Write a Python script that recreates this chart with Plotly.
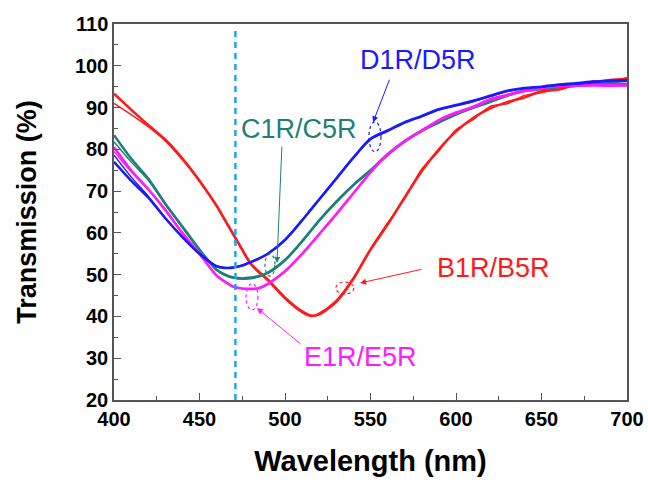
import plotly.graph_objects as go

wl = [400, 410, 420, 430, 440, 450, 460, 465, 470, 475, 480, 485, 490, 500, 510, 515, 520,
      530, 540, 550, 560, 570, 580, 590, 600, 610, 620, 630, 640, 650, 660, 670, 680, 690, 700]

# B1R / B5R (red)
b1r = [93.3, 89.5, 85.8, 82.3, 77.8, 72.5, 66.5, 63.0, 59.5, 56.0, 52.6, 50.6, 48.8, 44.5, 41.2, 40.2, 40.5,
       43.5, 49.0, 56.0, 62.0, 68.5, 74.8, 80.0, 84.3, 87.5, 89.8, 91.3, 92.4, 93.9, 94.3, 95.5, 96.0, 96.6, 96.8]
b5r = [91.0, 88.3, 85.4, 82.0, 77.5, 72.3, 66.4, 62.8, 59.3, 55.8, 52.4, 50.3, 48.5, 44.2, 40.9, 40.0, 40.8,
       43.9, 49.3, 56.2, 62.4, 68.2, 75.3, 79.6, 84.7, 87.1, 90.3, 90.9, 92.9, 93.5, 94.8, 95.1, 96.4, 96.2, 97.2]

# C1R / C5R (teal)
c1r = [83.4, 77.8, 73.0, 67.0, 61.5, 56.0, 51.2, 50.0, 49.3, 49.1, 49.3, 49.7, 50.5, 53.5, 58.0, 60.5, 63.0,
       67.5, 71.5, 75.0, 78.8, 82.0, 84.5, 86.5, 88.5, 90.0, 91.5, 93.0, 94.0, 94.5, 95.0, 95.3, 95.5, 95.8, 95.6]
c5r = [81.8, 77.0, 72.6, 66.8, 61.3, 55.8, 51.0, 49.8, 49.1, 48.9, 49.0, 49.5, 50.3, 53.3, 57.8, 60.3, 62.8,
       67.2, 71.3, 74.8, 78.5, 81.7, 84.3, 86.3, 88.2, 89.8, 91.2, 92.7, 93.8, 94.3, 94.8, 95.1, 95.4, 95.6, 95.4]

# D1R / D5R (blue)
d1r = [77.0, 72.5, 68.5, 63.5, 59.0, 55.0, 52.0, 51.6, 51.7, 52.2, 53.0, 53.9, 55.0, 58.3, 63.0, 65.5, 68.0,
       73.0, 78.0, 82.5, 84.5, 86.5, 88.0, 89.6, 90.6, 91.6, 92.8, 94.0, 94.7, 95.0, 95.5, 95.8, 96.2, 96.4, 96.5]
d5r = [78.6, 73.4, 68.8, 63.6, 59.1, 55.1, 52.1, 51.7, 51.8, 52.3, 53.1, 54.0, 55.1, 58.4, 63.1, 65.6, 68.1,
       73.1, 78.1, 82.3, 84.3, 86.3, 87.8, 89.4, 90.4, 91.4, 92.6, 93.8, 94.5, 94.9, 95.3, 95.6, 96.0, 96.2, 96.3]

# E1R / E5R (magenta)
e1r = [80.5, 75.0, 70.5, 65.5, 60.0, 55.0, 49.8, 48.3, 47.1, 46.7, 46.6, 46.8, 47.8, 50.8, 55.0, 57.3, 59.7,
       64.5, 69.5, 74.5, 78.8, 82.0, 84.5, 87.0, 88.8, 90.2, 92.0, 93.0, 94.0, 94.7, 95.2, 95.3, 95.4, 95.3, 95.4]
e5r = [79.5, 74.6, 70.3, 65.4, 59.9, 54.9, 49.7, 48.2, 47.0, 46.6, 46.5, 46.7, 47.7, 50.7, 54.9, 57.2, 59.6,
       64.4, 69.4, 74.4, 78.6, 81.8, 84.3, 86.8, 88.6, 90.0, 91.8, 92.8, 93.8, 94.5, 95.0, 95.1, 95.2, 95.1, 95.2]

marker_wl = 471

RED = "#ff1a1a"
TEAL = "#1f7f78"
BLUE = "#1a1aff"
MAG = "#ff1aff"
DASH = "#1ea7e8"

series = [
    ("B1R", b1r, RED, 2.6), ("B5R", b5r, RED, 1.4),
    ("C1R", c1r, TEAL, 2.6), ("C5R", c5r, TEAL, 1.4),
    ("E1R", e1r, MAG, 2.6), ("E5R", e5r, MAG, 1.4),
    ("D1R", d1r, BLUE, 2.6), ("D5R", d5r, BLUE, 1.4),
]

fig = go.Figure()
for name, vals, col, w in series:
    fig.add_trace(go.Scatter(x=wl, y=vals, mode="lines", name=name,
                             line=dict(color=col, width=w, shape="spline", smoothing=0.8),
                             showlegend=False))

fig.add_shape(type="line", xref="x", yref="y", x0=marker_wl, x1=marker_wl, y0=20, y1=108.8,
              line=dict(color=DASH, width=2.5, dash="6px,5px"))

# dotted ellipses
ellipses = [
    (552.6, 83.0, 12, 30, BLUE),
    (491.2, 52.3, 10, 22, TEAL),
    (535.0, 46.8, 18, 12, RED),
    (480.7, 44.7, 12, 26, MAG),
]
for cx, cy, w, h, col in ellipses:
    fig.add_shape(type="circle", xref="x", yref="y", xsizemode="pixel", ysizemode="pixel",
                  xanchor=cx, yanchor=cy, x0=-w / 2, x1=w / 2, y0=-h / 2, y1=h / 2,
                  line=dict(color=col, width=1.2, dash="dot"))

# arrows
arrows = [
    (551.5, 86.5, 17, -44, BLUE),
    (495.3, 52.8, 5, -118, TEAL),
    (543.9, 48.0, 63, -14, RED),
    (483.6, 42.0, 45, 37, MAG),
]
for hx, hy, ax, ay, col in arrows:
    fig.add_annotation(x=hx, y=hy, xref="x", yref="y", ax=ax, ay=ay, text="",
                       showarrow=True, arrowhead=2, arrowsize=1.2, arrowwidth=1,
                       arrowcolor=col)

labels = [
    (577.8, 101.4, "D1R/D5R", BLUE),
    (508.2, 84.9, "C1R/C5R", TEAL),
    (622.2, 51.6, "B1R/B5R", RED),
    (543.9, 30.3, "E1R/E5R", MAG),
]
for lx, ly, txt, col in labels:
    fig.add_annotation(x=lx, y=ly, xref="x", yref="y", text=txt, showarrow=False,
                       font=dict(family="Liberation Sans, Arial", size=27, color=col))

tickfont = dict(family="Liberation Sans, Arial", size=20, color="black", weight="bold")
xtitlefont = dict(family="Liberation Sans, Arial", size=29, color="black", weight="bold")
ytitlefont = dict(family="Liberation Sans, Arial", size=27, color="black", weight="bold")

fig.update_xaxes(range=[400, 700], tick0=400, dtick=50, ticks="inside", ticklen=7, tickwidth=1.3,
                 tickcolor="#555", minor=dict(dtick=25, ticks="inside", ticklen=4, tickcolor="#555"),
                 showline=True, linecolor="#555", linewidth=1.5, mirror=True, showgrid=False,
                 zeroline=False, tickfont=tickfont, automargin=False,
                 title=dict(text="Wavelength (nm)", font=xtitlefont, standoff=22))
fig.update_yaxes(range=[20, 110], tick0=20, dtick=10, ticks="inside", ticklen=7, tickwidth=1.3,
                 tickcolor="#555", minor=dict(dtick=5, ticks="inside", ticklen=4, tickcolor="#555"),
                 showline=True, linecolor="#555", linewidth=1.5, mirror=True, showgrid=False,
                 zeroline=False, tickfont=tickfont, automargin=False,
                 title=dict(text="Transmission (%)", font=ytitlefont, standoff=30))

fig.update_layout(width=648, height=482, margin=dict(l=114, r=21, t=24, b=82),
                  plot_bgcolor="white", paper_bgcolor="white")

fig.write_html("out.html")
